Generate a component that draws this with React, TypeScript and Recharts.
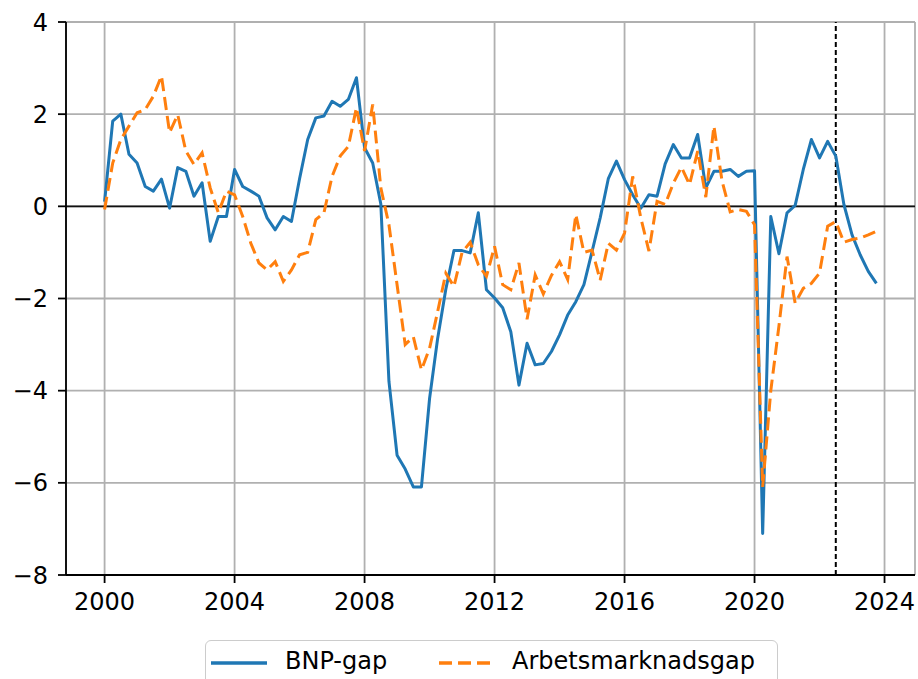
import React from "react";
import { LineChart, Line, XAxis, YAxis, CartesianGrid, ReferenceLine, Legend } from "recharts";

// quarterly observations, Q1..Q4 per year
const years = [
  2000, 2001, 2002, 2003, 2004, 2005, 2006, 2007, 2008, 2009, 2010, 2011,
  2012, 2013, 2014, 2015, 2016, 2017, 2018, 2019, 2020, 2021, 2022, 2023,
];
const quarterOffsets = [0, 0.25, 0.5, 0.75];

const bnpGap = [
  0.1, 1.85, 2.0, 1.13, // 2000
  0.94, 0.43, 0.33, 0.59, // 2001
  -0.04, 0.84, 0.76, 0.22, // 2002
  0.51, -0.76, -0.22, -0.22, // 2003
  0.8, 0.43, 0.33, 0.22, // 2004
  -0.25, -0.51, -0.22, -0.33, // 2005
  0.6, 1.45, 1.92, 1.96, // 2006
  2.28, 2.17, 2.32, 2.79, // 2007
  1.27, 0.94, 0.05, -3.8, // 2008
  -5.4, -5.7, -6.09, -6.09, // 2009
  -4.17, -2.86, -1.8, -0.96, // 2010
  -0.96, -1.01, -0.14, -1.81, // 2011
  -1.99, -2.2, -2.72, -3.88, // 2012
  -2.97, -3.44, -3.41, -3.15, // 2013
  -2.79, -2.36, -2.07, -1.7, // 2014
  -0.98, -0.25, 0.6, 0.98, // 2015
  0.58, 0.25, -0.04, 0.25, // 2016
  0.22, 0.92, 1.34, 1.05, // 2017
  1.05, 1.56, 0.4, 0.76, // 2018
  0.76, 0.8, 0.65, 0.76, // 2019
  0.77, -7.1, -0.22, -1.03, // 2020
  -0.14, 0.02, 0.8, 1.45, // 2021
  1.05, 1.41, 1.09, 0.04, // 2022
  -0.62, -1.05, -1.41, -1.67, // 2023
];

const arbetsmarknadsGap = [
  -0.07, 0.94, 1.45, 1.74, // 2000
  2.03, 2.1, 2.39, 2.83, // 2001
  1.6, 1.99, 1.2, 0.91, // 2002
  1.16, 0.4, -0.14, 0.33, // 2003
  0.25, -0.22, -0.8, -1.23, // 2004
  -1.38, -1.2, -1.63, -1.38, // 2005
  -1.05, -1.0, -0.29, -0.14, // 2006
  0.65, 1.09, 1.3, 2.14, // 2007
  1.2, 2.21, 0.4, -0.4, // 2008
  -1.7, -3.0, -2.83, -3.55, // 2009
  -3.08, -2.28, -1.45, -1.74, // 2010
  -1.0, -0.78, -1.27, -1.52, // 2011
  -0.87, -1.7, -1.81, -1.23, // 2012
  -2.45, -1.49, -1.9, -1.5, // 2013
  -1.2, -1.59, -0.18, -1.0, // 2014
  -0.95, -1.6, -0.8, -0.95, // 2015
  -0.58, 0.65, -0.25, -0.97, // 2016
  0.11, 0.04, 0.5, 0.85, // 2017
  0.47, 1.2, 0.2, 1.74, // 2018
  0.55, -0.12, -0.07, -0.11, // 2019
  -0.4, -6.09, -4.0, -2.6, // 2020
  -1.09, -2.1, -1.78, -1.67, // 2021
  -1.45, -0.43, -0.33, -0.78, // 2022
  -0.72, -0.69, -0.62, -0.54, // 2023
];

const xTicks = [2000, 2004, 2008, 2012, 2016, 2020, 2024];
const yTicks = [-8, -6, -4, -2, 0, 2, 4];
const xDomain = [1998.8125, 2024.9375];
const forecastStart = 2022.5;

const data = years.flatMap((y, yi) =>
  quarterOffsets.map((q, qi) => ({
    t: y + q,
    bnp: bnpGap[yi * 4 + qi],
    arb: arbetsmarknadsGap[yi * 4 + qi],
  }))
);

const BLUE = "#1f77b4";
const ORANGE = "#ff7f0e";
const FONT = "'DejaVu Sans', sans-serif";
const tickStyle = { fill: "#000", fontSize: 24, fontFamily: FONT };

const minus = (v: number) => String(v).replace("-", "\u2212");

function LegendBox() {
  return (
    <div
      style={{
        position: "relative",
        width: 573,
        height: 50,
        border: "1.5px solid #cccccc",
        borderRadius: 6,
        boxSizing: "border-box",
        background: "#fff",
        fontFamily: FONT,
        fontSize: 24,
        color: "#000",
      }}
    >
      <svg style={{ position: "absolute", left: 5, top: 17 }} width={56} height={10}>
        <line x1={0} y1={5} x2={56} y2={5} stroke={BLUE} strokeWidth={3.4} />
      </svg>
      <span style={{ position: "absolute", left: 79, top: 6, lineHeight: "28px" }}>BNP-gap</span>
      <svg style={{ position: "absolute", left: 233, top: 17 }} width={56} height={10}>
        <line x1={0} y1={5} x2={56} y2={5} stroke={ORANGE} strokeWidth={3.4} strokeDasharray="13 6" />
      </svg>
      <span style={{ position: "absolute", left: 306, top: 6, lineHeight: "28px" }}>
        Arbetsmarknadsgap
      </span>
    </div>
  );
}

export default function App() {
  return (
    <div style={{ position: "absolute", left: 0, top: 0, width: 918, height: 679, background: "#fff" }}>
      <LineChart width={918} height={679} data={data} margin={{ top: 22, right: 3, left: 6, bottom: 0 }}>
        <CartesianGrid stroke="#b0b0b0" strokeWidth={1.8} />
        <XAxis
          dataKey="t"
          type="number"
          domain={xDomain}
          ticks={xTicks}
          allowDataOverflow
          height={104}
          tickSize={8}
          tickMargin={10}
          tick={tickStyle}
          stroke="#000"
          axisLine={{ stroke: "#000", strokeWidth: 1.8 }}
          tickLine={{ stroke: "#000", strokeWidth: 1.8 }}
        />
        <XAxis
          xAxisId="top"
          orientation="top"
          type="number"
          domain={xDomain}
          height={0}
          tick={false}
          tickLine={false}
          axisLine={{ stroke: "#000", strokeWidth: 1.8 }}
        />
        <YAxis
          type="number"
          domain={[-8, 4]}
          ticks={yTicks}
          width={60}
          tickSize={8}
          tickMargin={10}
          tick={tickStyle}
          tickFormatter={minus}
          axisLine={{ stroke: "#000", strokeWidth: 1.8 }}
          tickLine={{ stroke: "#000", strokeWidth: 1.8 }}
        />
        <YAxis
          yAxisId="right"
          orientation="right"
          domain={[-8, 4]}
          width={0}
          tick={false}
          tickLine={false}
          axisLine={{ stroke: "#000", strokeWidth: 1.8 }}
        />
        <ReferenceLine y={0} stroke="#111" strokeWidth={1.6} />
        <ReferenceLine x={forecastStart} stroke="#000" strokeWidth={2} strokeDasharray="5 3" />
        <Line
          type="linear"
          dataKey="bnp"
          name="BNP-gap"
          stroke={BLUE}
          strokeWidth={3}
          dot={false}
          strokeLinejoin="round"
          isAnimationActive={false}
        />
        <Line
          type="linear"
          dataKey="arb"
          name="Arbetsmarknadsgap"
          stroke={ORANGE}
          strokeWidth={3}
          strokeDasharray="13 6"
          dot={false}
          isAnimationActive={false}
        />
        <Legend
          layout="horizontal"
          verticalAlign="middle"
          align="center"
          content={() => <LegendBox />}
          wrapperStyle={{ left: 205, top: 640, width: 573, height: 50 }}
        />
      </LineChart>
    </div>
  );
}
